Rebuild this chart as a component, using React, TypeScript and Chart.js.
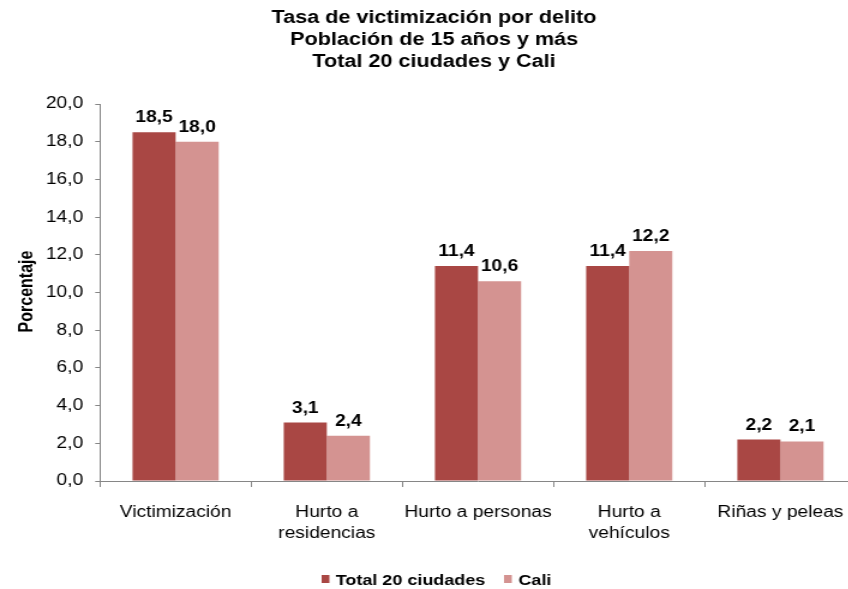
import React, { useEffect, useRef } from "react";
import { Chart, registerables } from "chart.js";

Chart.register(...registerables);

const categories: string[][] = [
  ["Victimización"],
  ["Hurto a", "residencias"],
  ["Hurto a personas"],
  ["Hurto a", "vehículos"],
  ["Riñas y peleas"],
];
const seriesNames = ["Total 20 ciudades", "Cali"];
const totalValues = [18.5, 3.1, 11.4, 11.4, 2.2];
const caliValues = [18.0, 2.4, 10.6, 12.2, 2.1];
const titleLines = [
  "Tasa de victimización por delito",
  "Población de 15 años y más",
  "Total 20 ciudades y Cali",
];
const yAxisTitle = "Porcentaje";
const yMin = 0;
const yMax = 20;
const yStep = 2;

const COLORS = ["#A94744", "#D49391"];
const AXIS = "#868686";
const FONT = "'Liberation Sans', Arial, Helvetica, sans-serif";
const SX = 1.2;
const W = 740;
const H = 589;

const fmt = (v: number) => v.toFixed(1).replace(".", ",");

const overlay = {
  id: "overlay",
  afterDatasetsDraw(chart: any) {
    const ctx = chart.ctx as CanvasRenderingContext2D;
    ctx.save();
    ctx.fillStyle = "#000";
    // data labels
    ctx.font = `bold 16px ${FONT}`;
    ctx.textAlign = "center";
    ctx.textBaseline = "alphabetic";
    chart.data.datasets.forEach((ds: any, i: number) => {
      const meta = chart.getDatasetMeta(i);
      meta.data.forEach((bar: any, j: number) => {
        ctx.fillText(fmt(ds.data[j]), bar.x, bar.y - 10);
      });
    });
    // title
    ctx.font = `bold 18px ${FONT}`;
    ctx.textBaseline = "middle";
    titleLines.forEach((t, k) => ctx.fillText(t, 361.7, 18 + k * 22));
    // y axis title
    ctx.save();
    ctx.translate(23, 291.5);
    ctx.rotate(-Math.PI / 2);
    ctx.font = `bold 16px ${FONT}`;
    ctx.fillText(yAxisTitle, 0, 0);
    ctx.restore();
    // legend
    ctx.font = `bold 15px ${FONT}`;
    ctx.textAlign = "left";
    const items = [
      { sq: 268, tx: 279.7 },
      { sq: 420, tx: 432 },
    ];
    items.forEach((it, k) => {
      ctx.fillStyle = COLORS[k];
      ctx.fillRect(it.sq, 575, 6.5, 8);
      ctx.fillStyle = "#000";
      ctx.fillText(seriesNames[k], it.tx, 580.5);
    });
    ctx.restore();
  },
};

export default function App() {
  const ref = useRef<HTMLCanvasElement | null>(null);
  useEffect(() => {
    if (!ref.current) return;
    const chart = new Chart(ref.current, {
      type: "bar",
      data: {
        labels: categories,
        datasets: [
          {
            label: seriesNames[0],
            data: totalValues,
            backgroundColor: COLORS[0],
            categoryPercentage: 0.57,
            barPercentage: 1,
          },
          {
            label: seriesNames[1],
            data: caliValues,
            backgroundColor: COLORS[1],
            categoryPercentage: 0.57,
            barPercentage: 1,
          },
        ],
      },
      options: {
        responsive: false,
        animation: false,
        devicePixelRatio: 1,
        layout: { padding: { top: 104, left: 0, right: W - 856 / SX, bottom: 0 } },
        plugins: {
          legend: { display: false },
          title: { display: false },
          tooltip: { enabled: false },
        },
        scales: {
          x: {
            grid: {
              offset: true,
              drawOnChartArea: false,
              drawTicks: true,
              tickLength: 6,
              color: AXIS,
            },
            border: { display: true, color: AXIS, width: 1 },
            ticks: {
              color: "#000",
              font: { family: FONT, size: 16, lineHeight: 1.3 },
              padding: 15,
              maxRotation: 0,
              minRotation: 0,
              autoSkip: false,
            },
            afterFit: (s: any) => {
              s.height = 108;
            },
          },
          y: {
            min: yMin,
            max: yMax,
            ticks: {
              stepSize: yStep,
              color: "#000",
              font: { family: FONT, size: 16 },
              padding: 10,
              callback: (v: any) => fmt(Number(v)),
            },
            grid: {
              drawOnChartArea: false,
              drawTicks: true,
              tickLength: 4,
              color: AXIS,
            },
            border: { display: true, color: AXIS, width: 1 },
            afterFit: (s: any) => {
              s.width = 100 / SX;
            },
          },
        },
      },
      plugins: [overlay],
    });
    return () => chart.destroy();
  }, []);

  return (
    <div
      style={{
        position: "fixed",
        left: 0,
        top: 0,
        width: 848,
        height: 589,
        overflow: "hidden",
        background: "#fff",
      }}
    >
      <div
        style={{
          width: W,
          height: H,
          transform: `scaleX(${SX})`,
          transformOrigin: "0 0",
        }}
      >
        <canvas ref={ref} width={W} height={H} style={{ display: "block" }} />
      </div>
    </div>
  );
}
